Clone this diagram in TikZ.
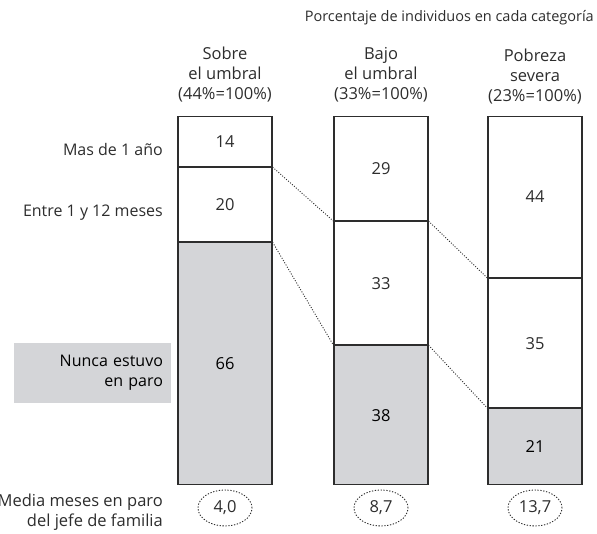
\documentclass[tikz,border=0pt]{standalone}
\usepackage{fontspec}
\setmainfont{Open Sans}
\usetikzlibrary{positioning,shapes.geometric}
\definecolor{gris}{RGB}{212,213,216}
\definecolor{tinta}{RGB}{45,45,45}
\newcommand\txtfont{\fontsize{16.5}{19}\selectfont}
\newcommand\lblfont{\fontsize{16}{20}\selectfont}

\begin{document}
\begin{tikzpicture}[x=1pt,y=-1pt, every node/.style={text=tinta,font=\txtfont},
    cell/.style={draw=tinta,line width=1.1pt,minimum width=94pt,inner sep=0pt},
    nunca/.style={cell,fill=gris,text=black},
    cabeza/.style={align=center,font=\fontsize{16.5}{20}\selectfont},
    fila/.style={anchor=east,inner sep=0pt,font=\lblfont},
    media/.style={ellipse,draw=tinta,dash pattern=on 1.3pt off 1.6pt,line width=0.9pt,minimum width=54pt,minimum height=36pt,inner sep=0pt},
    link/.style={dash pattern=on 1pt off 1.6pt,line width=0.9pt,draw=tinta}]
  \useasboundingbox (0,0) rectangle (597,534);

  \node[anchor=east,inner sep=0pt,font=\fontsize{14.5}{18}\selectfont] (titulo) at (594,18) {Porcentaje de individuos en cada categoría};

  % column heads
  \node[cabeza] (hs) at (225,75) {Sobre\\el umbral\\(44\%=100\%)};
  \node[cabeza] (hb) at (381,75) {Bajo\\el umbral\\(33\%=100\%)};
  \node[cabeza] (hp) at (535,77) {Pobreza\\severa\\(23\%=100\%)};

  % bars
  \node[cell,minimum height=50pt,anchor=north] (sa) at (225,116) {14};
  \node[cell,minimum height=74pt,below=0pt of sa] (sb) {20};
  \node[nunca,minimum height=242pt,below=0pt of sb] (sc) {66};

  \node[cell,minimum height=104pt,anchor=north] (ba) at (381,116) {29};
  \node[cell,minimum height=123pt,below=0pt of ba] (bb) {33};
  \node[nunca,minimum height=139pt,below=0pt of bb] (bc) {38};

  \node[cell,minimum height=161pt,anchor=north] (pa) at (535,116) {44};
  \node[cell,minimum height=129pt,below=0pt of pa] (pb) {35};
  \node[nunca,minimum height=76pt,below=0pt of pb] (pc) {21};

  \draw[link] (sa.south east) -- (bb.north west);
  \draw[link] (sb.south east) -- (bc.north west);
  \draw[link] (ba.south east) -- (pb.north west);
  \draw[link] (bb.south east) -- (pc.north west);

  % row labels
  \node[fila] (masuno) at (163,150) {Mas de 1 año};
  \node[fila] (entre) at (163,213) {Entre 1 y 12 meses};
  \node[fill=gris,text=black,align=right,text width=141pt,inner xsep=8pt,inner ysep=0pt,minimum height=60pt,font=\lblfont] (nuncalbl) at (92.5,373) {Nunca estuvo\\en paro};
  \node[fila,align=right,font=\fontsize{16.5}{20}\selectfont] (medialbl) at (163,512) {Media meses en paro\\del jefe de familia};

  \node[media] (ms) at (225,508) {4,0};
  \node[media] (mb) at (381,508) {8,7};
  \node[media] (mp) at (535,508) {13,7};
\end{tikzpicture}
\end{document}
